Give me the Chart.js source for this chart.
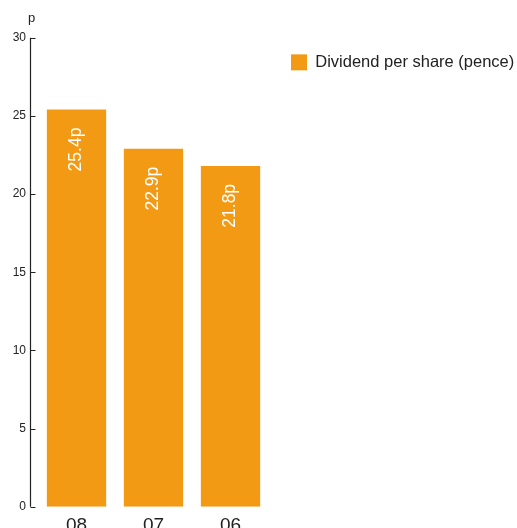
<!DOCTYPE html>
<html>
<head>
<meta charset="utf-8">
<script src="https://cdn.jsdelivr.net/npm/chart.js@4/dist/chart.umd.min.js"></script>
<style>
  html, body { margin: 0; padding: 0; background: #fff; }
  #wrap { width: 517px; height: 528px; }
</style>
</head>
<body>
<div id="wrap"><canvas id="c" width="517" height="528"></canvas></div>
<script>
const years = ['08', '07', '06'];
const dividendPence = [25.4, 22.9, 21.8];
const seriesName = 'Dividend per share (pence)';
const unitLabel = 'p';

const ORANGE = '#F39A14';
const INK = '#222222';
const FONT = '"Liberation Sans", Arial, Helvetica, sans-serif';

// Axis line with inward tick marks, plus the unit caption above it
const axisPlugin = {
  id: 'axisLine',
  afterDraw(chart) {
    const y = chart.scales.y;
    const ctx = chart.ctx;
    const ax = 30.5;
    ctx.save();
    ctx.strokeStyle = INK;
    ctx.lineWidth = 1.2;
    ctx.beginPath();
    ctx.moveTo(ax, y.getPixelForValue(y.max));
    ctx.lineTo(ax, y.getPixelForValue(y.min));
    y.ticks.forEach(t => {
      const py = Math.round(y.getPixelForValue(t.value)) + 0.5;
      ctx.moveTo(ax, py);
      ctx.lineTo(ax + 5, py);
    });
    ctx.stroke();
    ctx.fillStyle = INK;
    ctx.font = '13px ' + FONT;
    ctx.textAlign = 'center';
    ctx.textBaseline = 'alphabetic';
    ctx.fillText(unitLabel, 31.5, 22);
    ctx.restore();
  }
};

// Rotated value labels near the top of each bar
const valueLabels = {
  id: 'valueLabels',
  afterDatasetsDraw(chart) {
    const ctx = chart.ctx;
    const meta = chart.getDatasetMeta(0);
    ctx.save();
    ctx.fillStyle = '#ffffff';
    ctx.font = '17.5px ' + FONT;
    ctx.textAlign = 'right';
    ctx.textBaseline = 'middle';
    meta.data.forEach((bar, i) => {
      ctx.save();
      ctx.translate(bar.x, bar.y + 18);
      ctx.rotate(-Math.PI / 2);
      ctx.fillText(dividendPence[i].toFixed(1) + unitLabel, 0, 0);
      ctx.restore();
    });
    ctx.restore();
  }
};

new Chart(document.getElementById('c'), {
  type: 'bar',
  data: {
    labels: years,
    datasets: [{
      label: seriesName,
      data: dividendPence,
      backgroundColor: ORANGE,
      borderWidth: 0,
      categoryPercentage: 0.77,
      barPercentage: 1.0
    }]
  },
  options: {
    responsive: false,
    animation: false,
    devicePixelRatio: 1,
    layout: { padding: { top: 32.1, left: 0, right: 0, bottom: 0 } },
    plugins: {
      tooltip: { enabled: false },
      legend: {
        position: 'right',
        align: 'start',
        maxWidth: 248,
        labels: {
          boxWidth: 16,
          boxHeight: 16,
          padding: 22,
          color: INK,
          font: { family: FONT, size: 16.5 }
        }
      }
    },
    scales: {
      x: {
        grid: { display: false, drawTicks: false },
        border: { display: false },
        ticks: {
          color: INK,
          padding: 8,
          font: { family: FONT, size: 19 }
        },
        afterFit(s) { s.height = 21.3; }
      },
      // spacer above the plot so the legend sits a little higher than the axis top
      xTop: {
        type: 'category',
        position: 'top',
        grid: { display: false, drawTicks: false },
        border: { display: false },
        ticks: { display: false },
        afterFit(s) { s.height = 5.6; }
      },
      y: {
        min: 0,
        max: 30,
        grid: { display: false, drawTicks: false },
        border: { display: false },
        ticks: {
          stepSize: 5,
          color: INK,
          padding: 12,
          font: { family: FONT, size: 12 }
        },
        afterFit(s) { s.width = 38; }
      }
    }
  },
  plugins: [axisPlugin, valueLabels]
});
</script>
</body>
</html>
